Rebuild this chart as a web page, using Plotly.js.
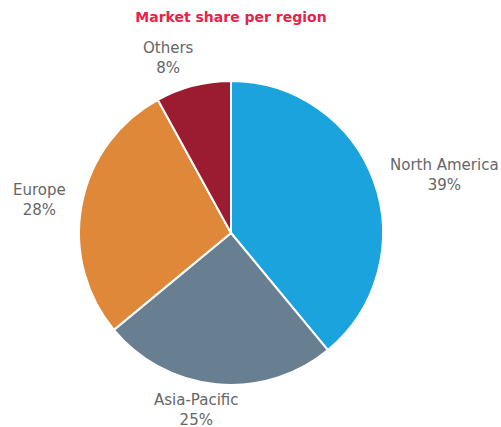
<!DOCTYPE html>
<html>
<head>
<meta charset="utf-8">
<script src="https://cdn.plot.ly/plotly-3.0.1.min.js"></script>
<style>html,body{margin:0;padding:0;background:#fff;}#chart{width:501px;height:427px;}</style>
</head>
<body>
<div id="chart"></div>
<script>
const regions = ["North America", "Asia-Pacific", "Europe", "Others"];
const shares = [39, 25, 28, 8];
const colors = ["#1ba3dd", "#687f92", "#e0883a", "#9b1b30"];

const W = 501, H = 427;
const domX = [0.1577, 0.7645], domY = [0.0984, 0.8103];

const trace = {
  type: "pie",
  labels: regions,
  values: shares,
  sort: false,
  direction: "clockwise",
  rotation: 0,
  marker: {colors: colors, line: {color: "#ffffff", width: 2}},
  textinfo: "none",
  showlegend: false,
  hoverinfo: "label+percent",
  domain: {x: domX, y: domY}
};

// Outside labels placed from the slice mid-angles
const cx = (domX[0] + domX[1]) / 2 * W;
const cy = (1 - (domY[0] + domY[1]) / 2) * H;
const R = Math.min((domX[1] - domX[0]) * W, (domY[1] - domY[0]) * H) / 2;
const total = shares.reduce((a, b) => a + b, 0);
let cum = 0;
const annotations = regions.map((name, i) => {
  const mid = (cum + shares[i] / 2) / total * 2 * Math.PI;
  cum += shares[i];
  const s = Math.sin(mid), c = Math.cos(mid);
  const d = R + 13 + 15 * c * c;
  const px = cx + d * s, py = cy - d * c;
  const side = s > 0.5 ? "left" : (s < -0.5 ? "right" : "center");
  return {
    text: name + "<br>" + Math.round(shares[i] / total * 100) + "%",
    xref: "paper", yref: "paper",
    x: px / W, y: 1 - py / H,
    xanchor: side,
    yanchor: "middle",
    xshift: side === "center" ? -18 : 0,
    yshift: 2,
    align: "center",
    showarrow: false,
    font: {family: "DejaVu Sans", size: 15, color: "#666666"}
  };
});

const layout = {
  width: W, height: H,
  margin: {l: 0, r: 0, t: 0, b: 0},
  paper_bgcolor: "#ffffff",
  title: {
    text: "<b>Market share per region</b>",
    x: 0.461, xanchor: "center", y: 0.96, yanchor: "middle",
    font: {family: "DejaVu Sans", size: 14, color: "#e8234a"}
  },
  annotations: annotations,
  showlegend: false
};

Plotly.newPlot("chart", [trace], layout, {displayModeBar: false, staticPlot: true});
</script>
</body>
</html>
